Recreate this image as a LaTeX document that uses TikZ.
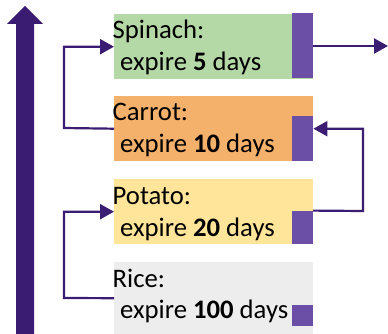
\documentclass[tikz,border=0pt]{standalone}
\usepackage{fontspec}
\setmainfont{Carlito}
\usetikzlibrary{arrows.meta}
\definecolor{cgreen}{HTML}{B5D8A7}
\definecolor{corange}{HTML}{F4B16B}
\definecolor{cyellow}{HTML}{FFE59A}
\definecolor{cgrey}{HTML}{EDEDED}
\definecolor{cbar}{HTML}{6B4EA6}
\definecolor{cdark}{HTML}{3A1C73}
\tikzset{
  box/.style={draw=none, inner sep=0pt, minimum width=199pt, minimum height=65pt, anchor=north west},
  bar/.style={draw=none, fill=cbar, inner sep=0pt, minimum width=21pt, anchor=south east},
  txt/.style={inner sep=0pt, anchor=base west, font=\fontsize{26.7}{30}\selectfont},
  conn/.style={draw=cdark, line width=2.2pt, -{Triangle[width=15pt,length=14pt]}},
  link/.style={draw=cdark, line width=2.2pt}
}
\begin{document}
\begin{tikzpicture}[x=1pt,y=-1pt]
\useasboundingbox (0,0) rectangle (388,334);
% big arrow
\fill[cdark] (16,334) -- (16,24) -- (7,24) -- (25,6) -- (43,24) -- (34,24) -- (34,334) -- cycle;
% boxes
\node[box, fill=cgreen]  (sp) at (114,14) {};
\node[box, fill=corange] (ca) at (114,96) {};
\node[box, fill=cyellow] (po) at (114,179) {};
\node[box, fill=cgrey, minimum height=72pt] (ri) at (114,262) {};
% bars
\node[bar, minimum height=65pt] (spb) at (313,78) {};
\node[bar, minimum height=45pt] (cab) at (313,161) {};
\node[bar, minimum height=33pt] (pob) at (313,244) {};
\node[bar, minimum height=21pt] (rib) at (313,326) {};
% texts
\node[txt] (spt1) at (112.5,39) {Spinach:};
\node[txt] (spt2) at (120,71) {expire \textbf{5} days};
\node[txt] (cat1) at (112.5,121) {Carrot:};
\node[txt] (cat2) at (120,153) {expire \textbf{10} days};
\node[txt] (pot1) at (112.5,204) {Potato:};
\node[txt] (pot2) at (120,236) {expire \textbf{20} days};
\node[txt] (rit1) at (112.5,287) {Rice:};
\node[txt] (rit2) at (120,318) {expire \textbf{100} days};
% connectors
\coordinate (out) at (388,46);
\draw[conn] (ca.west) -- (64,128) |- (sp.west);
\draw[conn] (spb.east |- out) -- (out);
\draw[conn] (pob.north east) -- (363,211) |- (ca.east);
\draw[conn] (ri.west) -- (64,298) |- (po.west);
\end{tikzpicture}
\end{document}
